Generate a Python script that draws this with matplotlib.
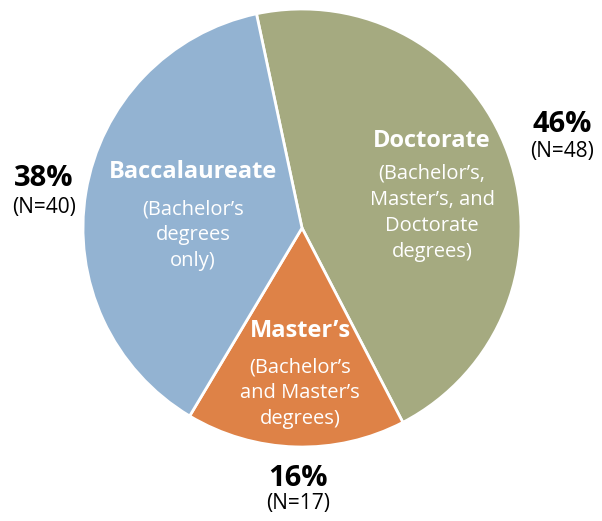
import matplotlib.pyplot as plt

# degree-level categories and counts
categories = ['Doctorate', "Master\u2019s", 'Baccalaureate']
counts = [48, 17, 40]
percent_labels = ['46%', '16%', '38%']
subtitles = ["(Bachelor\u2019s,\nMaster\u2019s, and\nDoctorate\ndegrees)",
             "(Bachelor\u2019s\nand Master\u2019s\ndegrees)",
             "(Bachelor\u2019s\ndegrees\nonly)"]
colors = ['#A5AA80', '#DE8247', '#93B3D2']

plt.rcParams['font.family'] = ['Open Sans', 'DejaVu Sans']

fig = plt.figure(figsize=(6.02, 5.21), dpi=100)
W, H = 602, 521
cx, cy, r = 302, 228, 219
ax = fig.add_axes([(cx - r) / W, (H - cy - r) / H, 2 * r / W, 2 * r / H])

ax.pie(counts, colors=colors, startangle=102, counterclock=False,
       radius=1, wedgeprops=dict(edgecolor='white', linewidth=2))
ax.set_xlim(-1, 1)
ax.set_ylim(-1, 1)
ax.set_aspect('equal')
ax.axis('off')


def pos(px, py):
    return (px - cx) / r, (cy - py) / r


# label positions inside slices (title, subtitle) and outside (pct, N)
title_pos = [pos(432, 141), pos(300, 331), pos(193, 172)]
sub_pos = [pos(432, 213), pos(300, 393), pos(193, 235)]
pct_pos = [pos(562, 125), pos(298, 478), pos(44, 178)]
n_pos = [pos(562, 152), pos(298, 503), pos(44, 207)]

for i in range(len(categories)):
    ax.text(*title_pos[i], categories[i], ha='center', va='center',
            color='white', fontsize=17, fontweight='bold', clip_on=False)
    ax.text(*sub_pos[i], subtitles[i], ha='center', va='center',
            color='white', fontsize=14.5, linespacing=1.4, clip_on=False)
    ax.text(*pct_pos[i], percent_labels[i], ha='center', va='center',
            color='black', fontsize=21, fontweight='bold', clip_on=False)
    ax.text(*n_pos[i], '(N=%d)' % counts[i], ha='center', va='center',
            color='black', fontsize=15, clip_on=False)

fig.savefig('out.png', dpi=100)
